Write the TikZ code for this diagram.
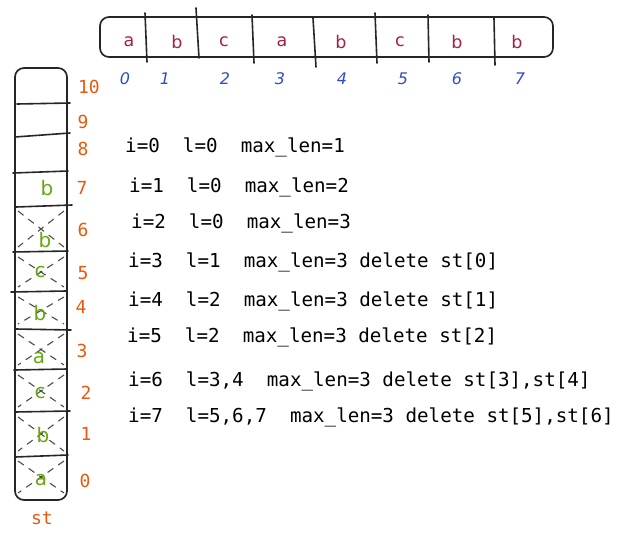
\documentclass[tikz,border=0pt]{standalone}
\usepackage{fontspec}
\usepackage{xcolor}
\usepackage{tikz}
\newfontfamily\codefont{DejaVu Sans Mono}
\newfontfamily\handfont{DejaVu Sans}
\definecolor{charred}{HTML}{A61E4D}
\definecolor{idxblue}{HTML}{2F4CC8}
\definecolor{stkgreen}{HTML}{66A80F}
\definecolor{lvlorange}{HTML}{E8590C}

\begin{document}
\begin{tikzpicture}[
  x=1pt, y=-1pt,
  every node/.style={inner sep=0pt},
  outline/.style={draw=black!85, line width=1.7pt, rounded corners=9pt},
  sep/.style={draw=black!85, line width=1.6pt, line cap=round},
  cross/.style={draw=black!70, line width=1.1pt, dash pattern=on 7pt off 6pt},
  chr/.style={font=\handfont\fontsize{17.5}{17.5}\selectfont, text=charred},
  idx/.style={font=\handfont\itshape\fontsize{16}{16}\selectfont, text=idxblue},
  stk/.style={font=\handfont\fontsize{20}{20}\selectfont, text=stkgreen},
  lvl/.style={font=\codefont\fontsize{18}{18}\selectfont, text=lvlorange},
  trace/.style={font=\codefont\fontsize{19.2}{19.2}\selectfont, anchor=base west}
]
\useasboundingbox (0,0) rectangle (624,539);

%% string s
\draw[outline] (100,17) rectangle (553,57);
\foreach \xa/\ya/\xb/\yb in {145/13/147/62, 196/8/199/58, 252/15/254/63,
    313/18/316/67, 375/13/377/63, 428/15/429/62, 494/18/495/65}
  \draw[sep] (\xa,\ya) -- (\xb,\yb);
\foreach \n/\x/\c in {0/129/a,1/177/b,2/224/c,3/282/a,4/341/b,5/400/c,6/457/b,7/517/b}
  \node[chr] (s\n) at (\x,42) {\c};
\foreach \n/\x in {0/125,1/165,2/225,3/280,4/342,5/403,6/457,7/520}
  \node[idx] (i\n) at (\x,79) {\n};

%% stack st
\draw[outline] (15,68) rectangle (67,500);
\foreach \xa/\ya/\xb/\yb in {17/104/70/103, 15/137/70/133, 13/173/68/171,
    16/207/72/205, 13/252/68/251, 11/292/66/291, 16/329/71/330,
    14/370/67/369, 15/412/70/411, 15/457/68/455}
  \draw[sep] (\xa,\ya) -- (\xb,\yb);
\foreach \yt/\yb in {456/498, 412/456, 370/412, 329/370, 292/329, 252/292, 206/252} {
  \draw[cross] (18,\yt+5) -- (64,\yb-5);
  \draw[cross] (64,\yt+5) -- (18,\yb-5);
}
\foreach \n/\x/\y/\c in {7/47/188/b, 6/45/240/b, 5/40/272/c, 4/40/313/b,
    3/39/358/a, 2/40/393/c, 1/43/435/b, 0/41/480/a}
  \node[stk] (c\n) at (\x,\y) {\c};
\foreach \n/\x/\y in {10/89/87, 9/83/122, 8/83/149, 7/82/188, 6/83/230, 5/83/273,
    4/81/307, 3/82/351, 2/86/393, 1/86/434, 0/85/481}
  \node[lvl] (l\n) at (\x,\y) {\n};
\node[lvl, anchor=base] (stname) at (42,524) {st};

%% trace
\node[trace] (t0) at (125,152)   {i=0\ \ l=0\ \ max\_len=1};
\node[trace] (t1) at (129,192.5) {i=1\ \ l=0\ \ max\_len=2};
\node[trace] (t2) at (131,228.5) {i=2\ \ l=0\ \ max\_len=3};
\node[trace] (t3) at (128,267.5) {i=3\ \ l=1\ \ max\_len=3 delete st[0]};
\node[trace] (t4) at (128,306.5) {i=4\ \ l=2\ \ max\_len=3 delete st[1]};
\node[trace] (t5) at (127,342.5) {i=5\ \ l=2\ \ max\_len=3 delete st[2]};
\node[trace] (t6) at (128,386.5) {i=6\ \ l=3,4\ \ max\_len=3 delete st[3],st[4]};
\node[trace] (t7) at (128,422.5) {i=7\ \ l=5,6,7\ \ max\_len=3 delete st[5],st[6]};
\end{tikzpicture}
\end{document}
